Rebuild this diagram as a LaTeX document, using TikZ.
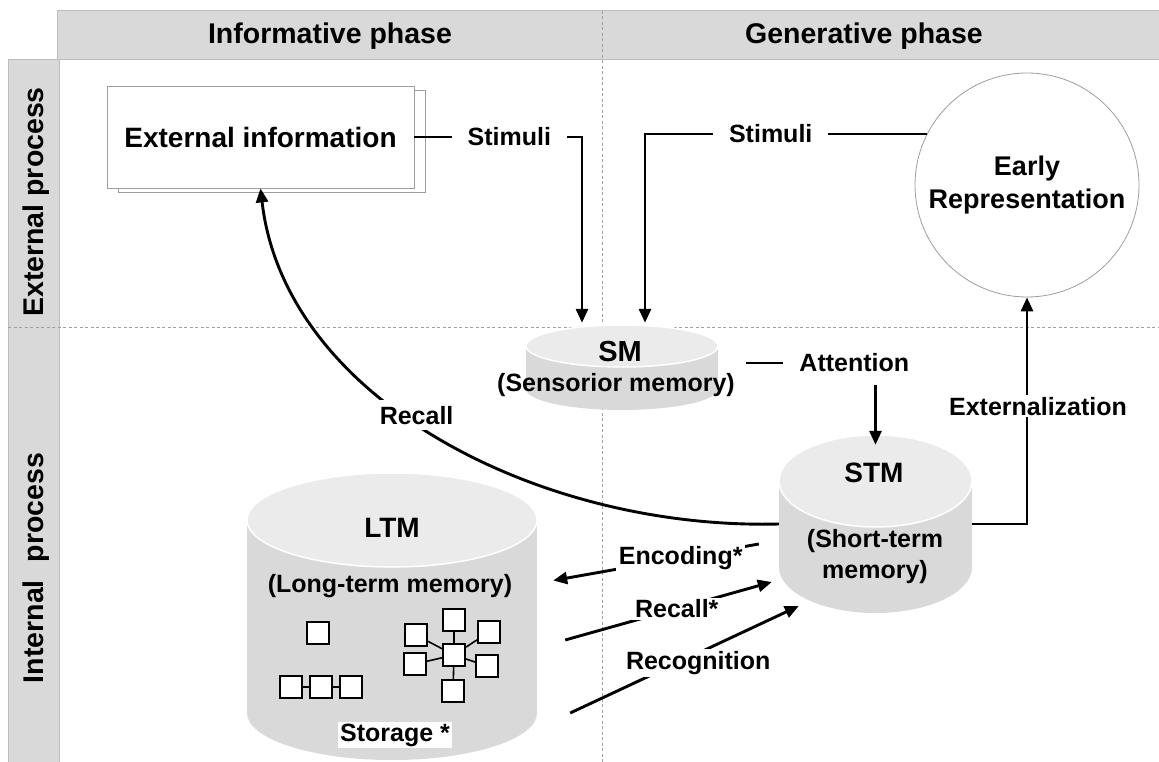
\documentclass[tikz,border=0pt]{standalone}
\usepackage{fontspec}
\setmainfont{Liberation Sans}
\usepackage{tikz}
\usetikzlibrary{arrows.meta}
\usetikzlibrary{calc}

\definecolor{bandgray}{HTML}{D9D9D9}
\definecolor{bandline}{HTML}{BDBDBD}
\definecolor{tankbody}{HTML}{D9D9D9}
\definecolor{tanklid}{HTML}{EBEBEB}
\definecolor{rulegray}{HTML}{9E9E9E}

\newcommand{\phasefont}{\bfseries\fontsize{28.5}{33}\selectfont}
\newcommand{\tagfont}{\bfseries\fontsize{25}{31}\selectfont}
\newcommand{\bigfont}{\bfseries\fontsize{28}{33}\selectfont}

% centre x, top y, bottom y, x radius, y radius
\newcommand{\memtank}[5]{%
  \fill[tankbody] ({#1-#4},{#2+#5}) rectangle ({#1+#4},{#3-#5});
  \fill[tankbody] (#1,{#3-#5}) ellipse ({#4} and {#5});
  \filldraw[tanklid,draw=white,line width=1.5pt] (#1,{#2+#5}) ellipse ({#4} and {#5});
}

\begin{document}
\begin{tikzpicture}[x=1pt,y=-1pt]
\tikzstyle{conn} = [line width=2.9pt, -{Triangle[length=14pt,width=12pt]}]
\tikzstyle{tag} = [fill=white, inner xsep=3pt, inner ysep=2pt, font=\tagfont]
\tikzstyle{gaptag} = [tag, inner xsep=16pt]
\tikzstyle{holder} = [rectangle, inner sep=0pt, draw=none]
\tikzstyle{infobox} = [rectangle, draw=rulegray, line width=0.8pt, fill=white,
  minimum width=307, minimum height=102, inner sep=0pt]
\tikzstyle{cell} = [rectangle, draw, line width=2pt, fill=white,
  minimum size=22, inner sep=0pt]
\tikzstyle{gridline} = [draw=gray!75, line width=0.8pt, dash pattern=on 3pt off 2.5pt]
\useasboundingbox (0,0) rectangle (1159,762);

% frame of the two phases and the two processes
\filldraw[fill=bandgray, draw=bandline, line width=1pt] (57,11) rectangle (1159,60);
\filldraw[fill=bandgray, draw=bandline, line width=1pt] (8,60) rectangle (59,762);
\node[font=\phasefont] (infoph) at (330,36) {Informative phase};
\node[font=\phasefont] (genph) at (864,36) {Generative phase};
\node[font=\phasefont, rotate=90] (extproc) at (36,202) {External process};
\node[font=\phasefont, rotate=90] (intproc) at (36,568) {Internal\hspace{0.35em} process};
\draw[gridline] (8,327) -- (1159,327);
\draw[gridline] (602,11) -- (602,762);

% external side
\node[infobox] (extshade) at (271.5,141) {};
\node[infobox, font=\bigfont] (extinfo) at (260.5,137) {External information};
\node[circle, draw=rulegray, line width=0.8pt, fill=white, minimum size=224,
  inner sep=0pt, align=center, font=\bfseries\fontsize{27}{33}\selectfont]
  (early) at (1027,185) {Early\\Representation};

% memories
\memtank{622}{325}{410}{96}{21}
\node[holder, minimum width=192, minimum height=85] (sm) at (622,367.5) {};
\node[font=\bfseries\fontsize{29}{33}\selectfont] (smT) at (620,352) {SM};
\node[font=\tagfont] (smS) at (616,385) {(Sensorior memory)};

\memtank{875.5}{435}{613}{96.5}{46}
\node[holder, minimum width=193, minimum height=178] (stm) at (875.5,524) {};
\node[font=\bigfont] (stmT) at (874,473) {STM};
\node[font=\tagfont, align=center] (stmS) at (875,557) {(Short-term\\memory)};

\memtank{392}{473}{760}{145}{47}
\node[holder, minimum width=290, minimum height=287] (ltm) at (392,616.5) {};
\node[font=\bigfont] (ltmT) at (392,528) {LTM};
\node[font=\tagfont] (ltmS) at (390,586) {(Long-term memory)};
\node[fill=white, inner sep=2pt, font=\tagfont] (store) at (395,735) {Storage *};

% storage network
\node[cell] (solo) at (318,633) {};
\node[cell] (c1) at (291,687) {};
\node[cell] (c2) at (321,687) {};
\node[cell] (c3) at (351,687) {};
\draw[line width=1.6pt] (c1.east) -- (c2.west) (c2.east) -- (c3.west);
\node[cell] (hub) at (454,655) {};
\foreach \n/\p in {up/{454,620}, dn/{453,691}, ul/{416,635},
                   ur/{489,632}, dl/{415,664}, dr/{487,666}}{
  \node[cell] (\n) at (\p) {};
  \draw[line width=1.6pt] (hub) -- (\n);
}

% flows
\coordinate (smInA) at ($(sm.north)+(-40,-2)$);
\coordinate (smInB) at ($(sm.north)+(23,-2)$);
\draw[conn] (extinfo.east) -| node[gaptag, pos=0.283] (stimA) {Stimuli} (smInA);
\draw[conn] (early.153.5) -| node[gaptag, pos=0.277] (stimB) {Stimuli} (smInB);
\draw[conn] ($(sm.east)+(28,-4.5)$) -| node[gaptag, pos=0.418, inner ysep=13pt]
  (att) {Attention} ([yshift=-10pt]stm.north);
\draw[conn] (stm.east) -| node[tag, pos=0.76, xshift=11pt] (extz) {Externalization} (early.south);
\draw[conn] (stm.west) .. controls (540,530) and (285,400) ..
  node[tag, pos=0.54, yshift=8pt, inner sep=6pt] (recl) {Recall} (extinfo.south);

\coordinate (encFrom) at ($(stm.west)+(-20,20)$);
\coordinate (encTo) at ($(ltm.east)+(16,-36)$);
\coordinate (rclFrom) at ($(ltm.east)+(28,23.5)$);
\coordinate (rclTo) at ($(stm.west)+(-7,58)$);
\coordinate (rcgFrom) at ($(ltm.east)+(33,96.5)$);
\coordinate (rcgTo) at ($(stm.west)+(20,82)$);
\draw[conn] (encFrom) -- node[tag, pos=0.38] (enc) {Encoding*} (encTo);
\draw[conn] (rclFrom) -- node[tag, pos=0.54] (rcl2) {Recall*} (rclTo);
\draw[conn] (rcgFrom) -- node[tag, pos=0.56, yshift=-10pt] (rcg) {Recognition} (rcgTo);
\end{tikzpicture}
\end{document}
